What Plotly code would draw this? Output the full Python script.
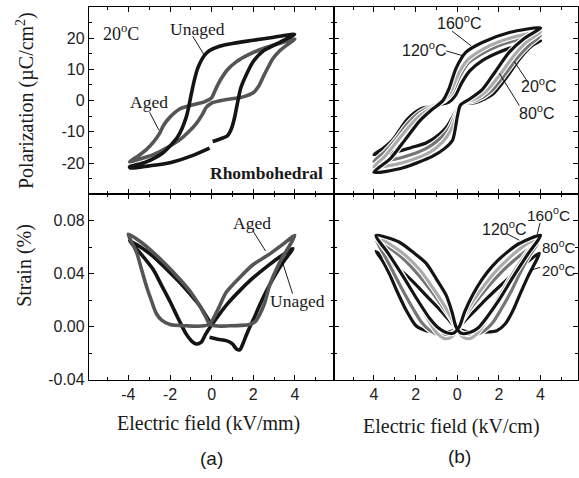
import plotly.graph_objects as go

W, H = 579, 478

# ---------------- data: panel (a) polarization ----------------
pa_unaged_E = [0.05, 0.4, 0.75, 0.95, 1.1, 1.25, 1.4, 1.66, 2.0, 2.5, 3.26, 3.98,
               3.0, 2.0, 1.0, 0.38, -0.1, -0.34, -0.67, -0.85, -0.98, -1.22, -1.63, -2.35, -3.2, -3.94,
               -3.9, -3.0, -2.0, -1.0, -0.1]
pa_unaged_P = [-13.1, -12.3, -11.3, -9.0, -5.5, -0.5, 4.0, 8.2, 12.5, 16.0, 18.6, 21.2,
               20.3, 19.3, 18.3, 17.4, 16.0, 14.5, 10.3, 6.0, 2.0, -5.3, -11.6, -16.8, -19.8, -21.2,
               -21.6, -20.9, -19.9, -17.8, -15.2]

pa_aged_E = [4.0, 3.2, 2.45, 1.8, 1.18, 0.75, 0.38, 0.15, 0.0, -0.35, -0.74, -1.2, -1.54, -2.0, -2.3,
             -2.5, -2.8, -3.14, -3.5, -3.94,
             -3.4, -2.8, -2.2, -1.54, -1.1, -0.74, -0.45, -0.26, 0.0, 0.38, 0.9, 1.34, 1.7, 2.0,
             2.25, 2.45, 2.7, 2.94, 3.25, 3.58, 4.0]
pa_aged_P = [19.7, 18.2, 16.6, 14.8, 12.4, 9.8, 6.1, 3.0, 0.9, -0.4, -1.1, -1.9, -2.7, -5.3, -7.8,
             -10.5, -13.3, -15.7, -17.6, -19.6,
             -18.6, -17.3, -15.3, -12.6, -10.0, -7.4, -4.5, -2.2, -0.8, -0.1, 0.5, 0.9, 1.6, 2.5,
             4.5, 7.2, 10.5, 13.4, 15.8, 17.6, 19.7]

# ---------------- data: panel (a) strain ----------------
sa_unaged_E = [-0.1, 0.3, 0.7, 1.0, 1.18, 1.35, 1.5, 1.65, 1.82, 2.05, 2.3, 2.6, 2.94, 3.4, 3.9,
               3.3, 2.7, 2.0, 1.4, 0.8, 0.35, -0.1, -0.3, -0.5, -0.74, -0.95, -1.22, -1.6, -2.0,
               -2.4, -2.8, -3.4, -3.94,
               -3.4, -2.8, -2.2, -1.54, -1.0, -0.58, -0.3, -0.1]
sa_unaged_S = [-0.008, -0.0095, -0.0105, -0.013, -0.0166, -0.0175, -0.013, -0.007, -0.0007, 0.007,
               0.016, 0.026, 0.036, 0.048, 0.059,
               0.053, 0.046, 0.037, 0.028, 0.018, 0.009, -0.001, -0.006, -0.0117, -0.013, -0.011,
               -0.0056, 0.006, 0.019, 0.031, 0.043, 0.055, 0.065,
               0.060, 0.053, 0.044, 0.0335, 0.024, 0.016, 0.009, 0.004]

sa_aged_E = [4.0, 3.4, 2.8, 2.0, 1.4, 0.7, 0.3, -0.1, -0.5, -1.2, -2.0, -2.4, -2.66, -2.9, -3.14,
             -3.4, -3.6, -4.0,
             -3.4, -2.8, -2.2, -1.54, -1.0, -0.58, -0.3, -0.1, 0.3, 0.86, 1.4, 1.82, 2.1, 2.3,
             2.55, 2.78, 3.1, 3.42, 3.7, 4.0]
sa_aged_S = [0.069, 0.062, 0.055, 0.047, 0.038, 0.026, 0.013, 0.002, 0.0005, 0.0007, 0.0017, 0.005,
             0.010, 0.020, 0.031, 0.045, 0.056, 0.070,
             0.064, 0.056, 0.047, 0.036, 0.026, 0.016, 0.008, 0.002, 0.0005, 0.0007, 0.001,
             0.0017, 0.004, 0.009, 0.018, 0.031, 0.043, 0.053, 0.060, 0.069]

# ---------------- data: panel (b) polarization ----------------
temps = ["20", "80", "120", "160"]
pb_E = {
    "20": [4, 3, 2, 1.2, 0.6, 0.2, -0.1, -0.4, -1.0, -1.8, -2.4, -3.1, -3.6, -4,
           -3, -2.2, -1.5, -0.9, -0.5, -0.2, 0, 0.3, 0.9, 1.7, 2.34, 3.0, 3.6, 4],
    "80": [4, 3, 2, 1.2, 0.5, 0.1, -0.25, -0.6, -1.2, -1.8, -2.4, -3.0, -3.5, -4,
           -3, -2.2, -1.4, -0.8, -0.4, -0.15, 0.05, 0.35, 0.9, 1.6, 2.2, 2.9, 3.5, 4],
    "120": [4, 3, 2, 1.2, 0.5, 0.05, -0.3, -0.65, -1.2, -1.8, -2.4, -3.0, -3.5, -4,
            -3, -2.2, -1.3, -0.7, -0.35, -0.1, 0.05, 0.3, 0.8, 1.4, 2.0, 2.7, 3.3, 4],
    "160": [4, 2.5, 1.2, 0.42, -0.06, -0.38, -0.7, -1.2, -1.8, -2.5, -3.2, -4,
            -2.6, -1.18, -0.6, -0.22, 0, 0.15, 0.6, 1.2, 1.8, 2.5, 3.2, 4],
}
pb_P = {
    "20": [19.2, 17.8, 15.5, 12.8, 9.5, 5.5, 1.5, -0.5, -1.5, -2.8, -6.0, -12.6, -15.5, -17.3,
           -16.5, -15.0, -13.6, -11.0, -8.4, -5.0, -2.5, -1.0, -0.6, 2.0, 7.2, 13.4, 17.6, 19.2],
    "80": [20.8, 19.6, 17.6, 15.0, 11.8, 7.5, 2.5, 0.0, -1.8, -3.8, -7.5, -12.8, -16.5, -19.5,
           -18.8, -17.3, -15.0, -12.0, -9.0, -5.5, -2.3, -0.8, 0.0, 2.8, 7.5, 13.8, 18.0, 20.8],
    "120": [22.0, 20.8, 18.8, 16.3, 13.0, 8.5, 3.0, 0.0, -2.2, -4.8, -9.0, -14.0, -18.0, -21.2,
            -20.5, -19.0, -16.5, -13.2, -10.0, -6.0, -2.3, -0.6, 0.3, 3.0, 7.8, 14.2, 18.6, 22.0],
    "160": [23.3, 21.8, 18.6, 15.5, 10.3, 4.1, -0.1, -2.8, -6.5, -12.5, -18.5, -23.0,
            -21.5, -17.8, -15.3, -12.6, -5.3, -1.5, 0.5, 3.5, 9.0, 15.5, 19.8, 23.3],
}

# ---------------- data: panel (b) strain ----------------
sb_E = {
    "20": [3.94, 3.3, 2.7, 2.0, 1.4, 0.9, 0.45, 0.1, -0.2, -0.5, -1.0, -1.5, -1.98, -2.46, -2.9,
           -3.26, -3.6, -3.9,
           -3.3, -2.6, -2.0, -1.4, -0.9, -0.45, -0.1, 0.3, 0.8, 1.4, 1.9, 2.3, 2.7, 3.0, 3.4, 3.94],
    "80": [3.85, 3.2, 2.5, 1.8, 1.2, 0.7, 0.3, 0.0, -0.4, -0.9, -1.3, -1.7, -2.1, -2.6, -3.1, -3.5, -3.9,
           -3.2, -2.5, -1.8, -1.2, -0.7, -0.3, 0.0, 0.4, 0.9, 1.3, 1.7, 2.1, 2.6, 3.0, 3.4, 3.85],
    "120": [3.95, 3.2, 2.5, 1.8, 1.2, 0.7, 0.3, 0.0, -0.3, -0.6, -0.9, -1.2, -1.6, -2.1, -2.7, -3.3, -3.9,
            -3.2, -2.5, -1.8, -1.2, -0.7, -0.3, 0.0, 0.3, 0.6, 0.9, 1.2, 1.6, 2.1, 2.7, 3.3, 3.95],
    "160": [4.0, 3.0, 2.3, 1.7, 1.2, 0.74, 0.35, 0.1, -0.2, -0.54, -0.9, -1.34, -1.9, -2.6, -3.3, -3.9,
            -2.8, -2.1, -1.5, -1.0, -0.54, -0.25, -0.06, 0.2, 0.6, 1.0, 1.4, 2.0, 2.7, 3.4, 4.0],
}
sb_S = {
    "20": [0.0555, 0.048, 0.040, 0.030, 0.021, 0.013, 0.006, 0.0, -0.003, -0.004, -0.004, -0.003,
           0.0007, 0.0127, 0.027, 0.040, 0.050, 0.057,
           0.050, 0.041, 0.032, 0.022, 0.014, 0.006, 0.0, -0.003, -0.004, -0.004, -0.003, 0.002,
           0.013, 0.024, 0.038, 0.0555],
    "80": [0.063, 0.056, 0.047, 0.036, 0.025, 0.015, 0.006, -0.002, -0.006, -0.006, -0.003, 0.003,
           0.013, 0.027, 0.042, 0.054, 0.066,
           0.059, 0.050, 0.038, 0.026, 0.015, 0.006, -0.002, -0.006, -0.006, -0.003, 0.003, 0.013,
           0.027, 0.040, 0.052, 0.063],
    "120": [0.068, 0.061, 0.052, 0.041, 0.029, 0.018, 0.007, -0.003, -0.008, -0.009, -0.006, 0.0,
            0.011, 0.025, 0.041, 0.055, 0.068,
            0.062, 0.054, 0.043, 0.030, 0.018, 0.007, -0.003, -0.008, -0.009, -0.006, 0.0, 0.011,
            0.025, 0.041, 0.055, 0.068],
    "160": [0.069, 0.063, 0.055, 0.046, 0.036, 0.024, 0.011, 0.0, -0.005, -0.0044, -0.001, 0.0066,
            0.020, 0.038, 0.055, 0.069,
            0.064, 0.056, 0.048, 0.036, 0.024, 0.011, 0.0, -0.005, -0.0044, -0.001, 0.0066, 0.020,
            0.038, 0.055, 0.069],
}
temp_colors = {"20": "#141414", "80": "#767676", "120": "#ababab", "160": "#141414"}

# tick labels
pol_ticks = [-20, -10, 0, 10, 20]
strain_ticks = [-0.04, 0.0, 0.04, 0.08]
strain_ticktext = ["-0.04", "0.00", "0.04", "0.08"]
field_ticks = [-4, -2, 0, 2, 4]
field_a_text = ["-4", "-2", "0", "2", "4"]
field_b_text = ["4", "2", "0", "2", "4"]

# ---------------- figure ----------------
fig = go.Figure()
SPL = dict(shape="spline", smoothing=0.7)


def add_line(x, y, xa, ya, color, width=3.6, under=False):
    if under:
        fig.add_trace(go.Scatter(x=x, y=y, mode="lines", xaxis=xa, yaxis=ya,
                                 line=dict(color="white", width=width + 2.2, **SPL),
                                 showlegend=False, hoverinfo="skip"))
    fig.add_trace(go.Scatter(x=x, y=y, mode="lines", xaxis=xa, yaxis=ya,
                             line=dict(color=color, width=width, **SPL),
                             showlegend=False, hoverinfo="skip"))


# (a)
add_line(pa_aged_E, pa_aged_P, "x", "y", "#555555")
add_line(pa_unaged_E, pa_unaged_P, "x", "y", "#141414")
add_line(sa_unaged_E, sa_unaged_S, "x3", "y3", "#141414")
add_line(sa_aged_E, sa_aged_S, "x3", "y3", "#555555")
# (b)
for t in temps:
    add_line(pb_E[t], pb_P[t], "x2", "y2", temp_colors[t], width=3.2, under=True)
    add_line(sb_E[t], sb_S[t], "x4", "y4", temp_colors[t], width=3.2, under=True)

xA = [89 / W, 335 / W]
xB = [335 / W, 1.0]
yT = [(H - 198) / H, (H - 7) / H]
yB = [(H - 387) / H, (H - 198) / H]

TICKFONT = dict(family="Liberation Sans, Arial, sans-serif", size=16, color="#222")


def ax(domain, rng, tickvals, ticktext, minor_dtick, show_labels, anchor):
    return dict(domain=domain, range=rng, anchor=anchor, showline=True, linecolor="black",
                linewidth=1, mirror="ticks", ticks="inside", ticklen=5, tickwidth=1,
                tickcolor="black", tickvals=tickvals, ticktext=ticktext,
                showticklabels=show_labels, showgrid=False, zeroline=False,
                tickfont=TICKFONT,
                minor=dict(ticks="inside", ticklen=3, tickwidth=1, tickcolor="black",
                           dtick=minor_dtick, showgrid=False))


fig.update_layout(
    width=W, height=H, margin=dict(l=0, r=0, t=0, b=0),
    paper_bgcolor="white", plot_bgcolor="white",
    xaxis=ax(xA, [-5.9, 5.9], field_ticks, field_a_text, 1, False, "y"),
    yaxis=ax(yT, [-30, 30], pol_ticks, [str(v) for v in pol_ticks], 5, True, "x"),
    xaxis2=ax(xB, [-5.9, 5.8], field_ticks, field_b_text, 1, False, "y2"),
    yaxis2=ax(yT, [-30, 30], pol_ticks, [str(v) for v in pol_ticks], 5, False, "x2"),
    xaxis3=ax(xA, [-5.9, 5.9], field_ticks, field_a_text, 1, True, "y3"),
    yaxis3=ax(yB, [-0.04, 0.10], strain_ticks, strain_ticktext, 0.02, True, "x3"),
    xaxis4=ax(xB, [-5.9, 5.8], field_ticks, field_b_text, 1, True, "y4"),
    yaxis4=ax(yB, [-0.04, 0.10], strain_ticks, strain_ticktext, 0.02, False, "x4"),
)
fig.update_yaxes(minor_tick0=0)
fig.update_xaxes(minor_tick0=0)

SERIF = "Liberation Serif, Times New Roman, serif"
SANS = "Liberation Sans, Arial, sans-serif"

anns = []


def txt(x, y, text, xref, yref, font, size, xanchor="center", angle=0):
    anns.append(dict(x=x, y=y, xref=xref, yref=yref, text=text, showarrow=False,
                     xanchor=xanchor, yanchor="middle", textangle=angle,
                     font=dict(family=font, size=size, color="#1a1a1a")))


# (a) top
txt(-4.37, 21.9, "20<sup>o</sup>C", "x", "y", SERIF, 18)
txt(-0.67, 22.8, "Unaged", "x", "y", SERIF, 17.5)
txt(-3.02, -0.6, "Aged", "x", "y", SERIF, 17.5)
txt(2.64, -23.1, "<b>Rhombohedral</b>", "x", "y", SERIF, 17.5)
# (b) top
txt(0.1, 25.0, "160<sup>o</sup>C", "x2", "y2", SANS, 16)
txt(-1.58, 16.6, "120<sup>o</sup>C", "x2", "y2", SANS, 16)
txt(3.94, 5.0, "20<sup>o</sup>C", "x2", "y2", SANS, 16)
txt(3.84, -3.75, "80<sup>o</sup>C", "x2", "y2", SANS, 16)
# (a) bottom
txt(1.92, 0.0785, "Aged", "x3", "y3", SERIF, 17.5)
txt(4.13, 0.0198, "Unaged", "x3", "y3", SERIF, 17.5)
# (b) bottom
txt(4.4, 0.0851, "160<sup>o</sup>C", "x4", "y4", SANS, 15.5)
txt(2.26, 0.0749, "120<sup>o</sup>C", "x4", "y4", SANS, 16)
txt(3.98, 0.0602, "80<sup>o</sup>C", "x4", "y4", SANS, 15, xanchor="left")
txt(3.98, 0.0433, "20<sup>o</sup>C", "x4", "y4", SANS, 15, xanchor="left")
# axis titles
txt(25 / W, (H - 102) / H, "Polarization (µC/cm<sup>2</sup>)", "paper", "paper", SERIF, 20, angle=-90)
txt(25 / W, (H - 270) / H, "Strain (%)", "paper", "paper", SERIF, 20, angle=-90)
txt(209 / W, (H - 432) / H, "Electric field (kV/mm)", "paper", "paper", SERIF, 20)
txt(452 / W, (H - 435) / H, "Electric field (kV/cm)", "paper", "paper", SERIF, 20)
txt(212 / W, (H - 467) / H, "(a)", "paper", "paper", SANS, 19)
txt(460 / W, (H - 465) / H, "(b)", "paper", "paper", SANS, 19)

shapes = []


def ptr(x0, y0, x1, y1, xref, yref):
    shapes.append(dict(type="line", x0=x0, y0=y0, x1=x1, y1=y1, xref=xref, yref=yref,
                       line=dict(color="black", width=0.9)))


ptr(-0.91, 20.6, -0.34, 14.4, "x", "y")
ptr(-2.98, -3.75, -2.54, -9.4, "x", "y")
ptr(-0.24, 22.2, 0.67, 17.5, "x2", "y2")
ptr(-0.53, 15.9, 0.24, 14.4, "x2", "y2")
ptr(3.36, 6.25, 2.74, 12.5, "x2", "y2")
ptr(2.98, -1.6, 2.02, 8.75, "x2", "y2")
ptr(1.97, 0.0727, 2.59, 0.0572, "x3", "y3")
ptr(3.89, 0.025, 3.41, 0.0484, "x3", "y3")
ptr(3.98, 0.0785, 3.84, 0.0697, "x4", "y4")
ptr(2.35, 0.0705, 2.98, 0.0653, "x4", "y4")
ptr(3.5, 0.0426, 3.98, 0.0448, "x4", "y4")

fig.update_layout(annotations=anns, shapes=shapes)
fig.write_html("out.html", config={"displayModeBar": False},
               post_script="document.body.style.margin='0px';document.body.style.overflow='hidden';")
